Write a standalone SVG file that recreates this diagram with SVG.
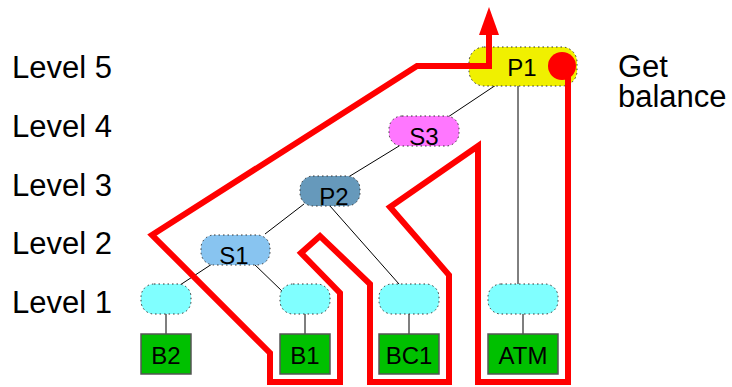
<svg xmlns="http://www.w3.org/2000/svg" width="732" height="387" viewBox="0 0 732 387">
<style>
text{font-family:"Liberation Sans",Arial,sans-serif;fill:#000}
.lvl{font-size:31px}
.nt{font-size:24px;text-anchor:middle}
.rn{stroke:#333;stroke-width:1;stroke-dasharray:1.5 3}
.leaf{fill:#80ffff}
.box{fill:#00c000;stroke:#555;stroke-width:1.5}
.edge{stroke:#000;stroke-width:1;fill:none}
.stub{stroke:#555;stroke-width:1.5;fill:none}
.route{stroke:#ff0000;stroke-width:6;fill:none;stroke-linejoin:miter;stroke-miterlimit:10}
</style>
<defs>
<marker id="arr" viewBox="0 0 28 20" refX="0" refY="10" markerWidth="28" markerHeight="20" markerUnits="userSpaceOnUse" orient="auto-start-reverse">
<path d="M0,0 L28,10 L0,20 z" fill="#ff0000"/>
</marker>
</defs>

<g id="levels">
<text class="lvl" x="12" y="78">Level 5</text>
<text class="lvl" x="12" y="137">Level 4</text>
<text class="lvl" x="12" y="196">Level 3</text>
<text class="lvl" x="12" y="254">Level 2</text>
<text class="lvl" x="12" y="313">Level 1</text>
</g>
<g id="label-get-balance">
<text class="lvl" x="618" y="77">Get</text>
<text class="lvl" x="618" y="107">balance</text>
</g>

<g id="connectors">
<line class="edge" x1="496" y1="85" x2="448" y2="117"/>
<line class="edge" x1="518" y1="86" x2="518" y2="284"/>
<line class="edge" x1="399" y1="146" x2="350" y2="176"/>
<line class="edge" x1="304" y1="204" x2="265" y2="234"/>
<line class="edge" x1="330" y1="206" x2="399" y2="284"/>
<line class="edge" x1="212" y1="264" x2="180" y2="285"/>
<line class="edge" x1="253" y1="263" x2="283" y2="292"/>
<line class="stub" x1="166" y1="314" x2="166" y2="334"/>
<line class="stub" x1="305" y1="314" x2="305" y2="334"/>
<line class="stub" x1="409" y1="314" x2="409" y2="334"/>
<line class="stub" x1="523" y1="314" x2="523" y2="334"/>
</g>

<g id="P1">
<rect class="rn" x="469" y="47" width="108" height="39" rx="15" fill="#f0f000"/>
<text class="nt" x="522" y="76">P1</text>
</g>
<g id="S3">
<rect class="rn" x="389" y="116" width="70" height="30" rx="13" fill="#ff77ff"/>
<text class="nt" x="424" y="145">S3</text>
</g>
<g id="P2">
<rect class="rn" x="300" y="176" width="60" height="30" rx="13" fill="#6699bb"/>
<text class="nt" x="334" y="205">P2</text>
</g>
<g id="S1">
<rect class="rn" x="201" y="235" width="69" height="30" rx="13" fill="#88c4f0"/>
<text class="nt" x="234" y="264">S1</text>
</g>
<g id="L1a">
<rect class="rn leaf" x="141" y="284" width="50" height="30" rx="13"/>
</g>
<g id="L1b">
<rect class="rn leaf" x="280" y="284" width="50" height="30" rx="13"/>
</g>
<g id="L1c">
<rect class="rn leaf" x="379" y="284" width="60" height="30" rx="13"/>
</g>
<g id="L1d">
<rect class="rn leaf" x="488" y="284" width="70" height="30" rx="13"/>
</g>
<g id="B2">
<rect class="box" x="141" y="334" width="50" height="40"/>
<text class="nt" x="166" y="364">B2</text>
</g>
<g id="B1">
<rect class="box" x="280" y="334" width="50" height="40"/>
<text class="nt" x="305" y="364">B1</text>
</g>
<g id="BC1">
<rect class="box" x="379" y="334" width="60" height="40"/>
<text class="nt" x="409" y="364">BC1</text>
</g>
<g id="ATM">
<rect class="box" x="488" y="334" width="70" height="40"/>
<text class="nt" x="523" y="364">ATM</text>
</g>

<g id="route">
<path class="route" marker-start="url(#arr)" d="M489 35 V66 H417 L152 235 L270 353 V382 H340 V293 L301 253 L320 236 L370 284 V382 H449 V275 L390 207 L478 146 V382 H568 V66"/>
<circle cx="562" cy="66" r="14" fill="#ff0000"/>
</g>
</svg>
